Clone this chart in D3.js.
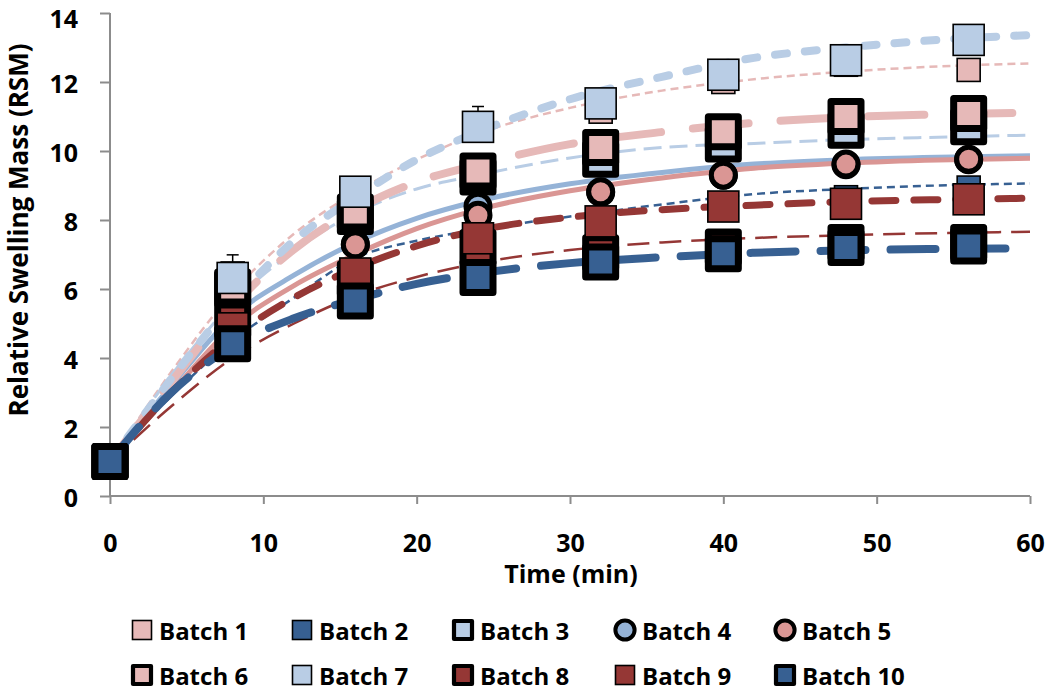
<!DOCTYPE html>
<html><head><meta charset="utf-8">
<script src="https://cdn.jsdelivr.net/npm/d3@7"></script>
<style>html,body{margin:0;padding:0;background:#fff;} svg{display:block;font-family:"Open Sans",sans-serif;font-weight:700;}</style>
</head><body><svg id="c" width="1050" height="690"></svg>
<script>
// ---------- data ----------
const times = [0, 8, 16, 24, 32, 40, 48, 56];
const seriesNames = ["Batch 1","Batch 2","Batch 3","Batch 4","Batch 5","Batch 6","Batch 7","Batch 8","Batch 9","Batch 10"];
const batch1  = [1, 6.45, 8.5, 10.6, 11.14, 12.0, 12.5, 12.35];
const batch2  = [1, 4.7, 6.5, 7.5, 8.0, 8.4, 8.66, 8.94];
const batch3  = [1, 6.0, 8.1, 9.25, 9.76, 10.2, 10.6, 10.7];
const batch4  = [1, 5.5, 7.3, 8.4, 8.8, 9.3, 9.6, 9.75];
const batch5  = [1, 5.3, 7.28, 8.14, 8.82, 9.3, 9.62, 9.76];
const batch6  = [1, 6.06, 8.23, 9.42, 10.1, 10.56, 11.0, 11.09];
const batch7  = [1, 6.32, 8.82, 10.7, 11.38, 12.21, 12.63, 13.22];
const batch8  = [1, 5.1, 6.3, 7.2, 7.05, 7.22, 7.35, 7.35];
const batch9  = [1, 4.86, 6.45, 7.47, 7.96, 8.39, 8.47, 8.6];
const batch10 = [1, 4.41, 5.65, 6.33, 6.78, 7.02, 7.2, 7.25];
const batch7Err = [0, 0.67, 0, 0.59, 0, 0, 0, 0];

// trend curves
const fitTimes = [0, 4, 8, 12, 16, 20, 24, 30, 36, 42, 48, 54, 60];
const fit1  = [1, 3.6, 5.9, 7.6, 8.8, 9.75, 10.5, 11.25, 11.75, 12.08, 12.3, 12.45, 12.54];
const fit2  = [1, 2.9, 4.5, 5.75, 6.9, 7.4, 7.72, 8.1, 8.45, 8.75, 8.9, 9.0, 9.06];
const fit3  = [1, 3.5, 5.6, 7.1, 8.2, 8.9, 9.3, 9.8, 10.1, 10.22, 10.33, 10.4, 10.46];
const fit4  = [1, 3.2, 5.2, 6.4, 7.35, 8.05, 8.55, 9.05, 9.38, 9.62, 9.75, 9.82, 9.86];
const fit5  = [1, 3.0, 4.9, 6.1, 7.0, 7.75, 8.3, 8.85, 9.22, 9.5, 9.65, 9.74, 9.79];
const fit6  = [1, 3.3, 5.5, 7.15, 8.3, 9.1, 9.6, 10.2, 10.55, 10.82, 10.98, 11.06, 11.11];
const fit7  = [1, 3.4, 5.6, 7.4, 8.65, 9.75, 10.55, 11.5, 12.15, 12.7, 13.0, 13.22, 13.36];
const fit8  = [1, 2.6, 4.0, 5.0, 5.8, 6.35, 6.75, 7.13, 7.35, 7.48, 7.56, 7.62, 7.66];
const fit9  = [1, 3.0, 4.6, 5.75, 6.6, 7.25, 7.7, 8.08, 8.3, 8.43, 8.53, 8.59, 8.63];
const fit10 = [1, 3.0, 4.35, 5.15, 5.7, 6.15, 6.45, 6.75, 6.92, 7.05, 7.12, 7.16, 7.18];

const xTicks = [0, 10, 20, 30, 40, 50, 60];
const yTicks = [0, 2, 4, 6, 8, 10, 12, 14];
const xTitle = "Time (min)";
const yTitle = "Relative Swelling Mass (RSM)";

// ---------- styles ----------
const C = {lpink:"#E6B9B8", dblue:"#376092", lblue:"#B9CDE5", mblue:"#95B3D7", mpink:"#DA9694", dred:"#953735"};
const markerStyle = [
  {kind:"sq", fill:C.lpink, size:23},
  {kind:"sq", fill:C.dblue, size:23},
  {kind:"bsq", fill:C.lblue},
  {kind:"circ", fill:C.mblue},
  {kind:"circ", fill:C.mpink},
  {kind:"bsq", fill:C.lpink},
  {kind:"sq", fill:C.lblue, size:31},
  {kind:"bsq", fill:C.dred},
  {kind:"sq", fill:C.dred, size:31},
  {kind:"bsq", fill:C.dblue}
];
const lineStyle = [
  {color:C.lpink, w:2.5, dash:"8,5", cap:"butt"},
  {color:C.dblue, w:2.5, dash:"8,5", cap:"butt"},
  {color:C.lblue, w:3, dash:"18,8", cap:"butt"},
  {color:C.mblue, w:5, dash:null, cap:"butt"},
  {color:C.mpink, w:5, dash:null, cap:"butt"},
  {color:C.lpink, w:8, dash:"56,32", cap:"round"},
  {color:C.lblue, w:8, dash:"12,18", cap:"round"},
  {color:C.dred, w:2.5, dash:"22,10", cap:"butt"},
  {color:C.dred, w:7, dash:"24,18", cap:"round"},
  {color:C.dblue, w:8, dash:"45,25", cap:"round"}
];

const values = [batch1,batch2,batch3,batch4,batch5,batch6,batch7,batch8,batch9,batch10];
const fits = [fit1,fit2,fit3,fit4,fit5,fit6,fit7,fit8,fit9,fit10];

// ---------- layout ----------
const svg = d3.select("#c");
const x = d3.scaleLinear().domain([0,60]).range([110,1030]);
const y = d3.scaleLinear().domain([0,14]).range([496,13]);
const axisColor = "#8C8C8C";

// axes
const gx = svg.append("g").attr("transform","translate(0,496)")
  .call(d3.axisBottom(x).tickValues(xTicks).tickSize(8).tickPadding(27));
const gy = svg.append("g").attr("transform","translate(110,0)")
  .call(d3.axisLeft(y).tickValues(yTicks).tickSize(10).tickPadding(22));
[gx,gy].forEach(g=>{
  g.select(".domain").attr("stroke",axisColor).attr("stroke-width",2);
  g.selectAll(".tick line").attr("stroke",axisColor).attr("stroke-width",2);
  g.selectAll(".tick text").attr("fill","#000").attr("font-size",25).attr("font-family","Open Sans").attr("font-weight",700);
});
gx.selectAll(".tick text").attr("dy",null).attr("dominant-baseline","central").attr("y",46);
gy.selectAll(".tick text").attr("dy",null).attr("dominant-baseline","central")
  .attr("y",d=> d===14 ? 4 : 0);
gy.select(".domain").attr("d","M0,496V13");
gx.select(".domain").attr("d","M110,0H1030");

svg.append("text").attr("x",571).attr("y",573).attr("text-anchor","middle")
  .attr("dominant-baseline","central").attr("font-size",25).text(xTitle);
svg.append("text").attr("transform","translate(18,230) rotate(-90)").attr("text-anchor","middle")
  .attr("dominant-baseline","central").attr("font-size",26).text(yTitle);

// trend lines
const lineGen = d3.line().x((d,i)=>x(fitTimes[i])).y(d=>y(d)).curve(d3.curveMonotoneX);
const linesG = svg.append("g");
fits.forEach((f,k)=>{
  const s = lineStyle[k];
  linesG.append("path").attr("d",lineGen(f)).attr("fill","none")
    .attr("stroke",s.color).attr("stroke-width",s.w)
    .attr("stroke-dasharray",s.dash).attr("stroke-linecap",s.cap);
});

// markers
function drawMarker(g, st, cx, cy, scale){
  scale = scale||1;
  if(st.kind==="sq"){
    const s = st.size*scale;
    g.append("rect").attr("x",cx-s/2).attr("y",cy-s/2).attr("width",s).attr("height",s)
      .attr("fill",st.fill).attr("stroke","#000").attr("stroke-width",1.6);
  } else if(st.kind==="bsq"){
    const s = 30*scale, w = 7*scale;
    g.append("rect").attr("x",cx-s/2).attr("y",cy-s/2).attr("width",s).attr("height",s)
      .attr("fill",st.fill).attr("stroke","#000").attr("stroke-width",w).attr("stroke-linejoin","round");
  } else {
    const r = 12*scale;
    g.append("circle").attr("cx",cx).attr("cy",cy).attr("r",r)
      .attr("fill",st.fill).attr("stroke","#000").attr("stroke-width",5*scale);
  }
}
const markG = svg.append("g");
values.forEach((vals,k)=>{
  const g = markG.append("g");
  if(k===6){
    vals.forEach((v,i)=>{
      const e = batch7Err[i];
      if(e>0){
        g.append("line").attr("x1",x(times[i])).attr("x2",x(times[i])).attr("y1",y(v)).attr("y2",y(v+e)).attr("stroke","#000").attr("stroke-width",1.5);
        g.append("line").attr("x1",x(times[i])-6).attr("x2",x(times[i])+6).attr("y1",y(v+e)).attr("y2",y(v+e)).attr("stroke","#000").attr("stroke-width",1.5);
      }
    });
  }
  vals.forEach((v,i)=> drawMarker(g, markerStyle[k], x(times[i]), y(v)));
});

// legend
const legCols = [142, 302, 463, 625, 785];
const legRows = [630, 675];
const legG = svg.append("g");
seriesNames.forEach((name,k)=>{
  const cx = legCols[k%5], cy = legRows[Math.floor(k/5)];
  const st = markerStyle[k];
  const g = legG.append("g");
  if(st.kind==="sq") drawMarker(g,{kind:"sq",fill:st.fill,size:19},cx,cy,1);
  else if(st.kind==="bsq") drawMarker(g,st,cx,cy,0.6);
  else drawMarker(g,st,cx,cy,0.8);
  g.append("text").attr("x",cx+17).attr("y",cy).attr("dominant-baseline","central")
    .attr("font-size",24).text(name);
});
</script></body></html>
